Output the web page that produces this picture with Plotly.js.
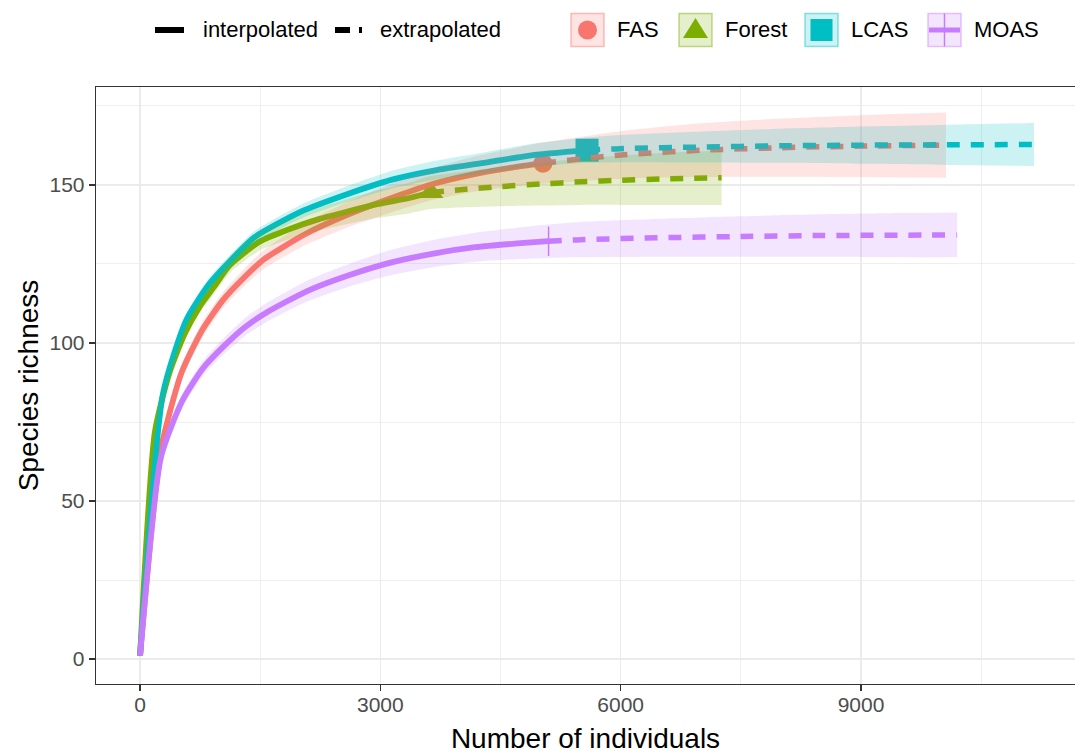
<!DOCTYPE html>
<html>
<head>
<meta charset="utf-8">
<script src="https://cdn.plot.ly/plotly-3.0.1.min.js"></script>
<style>
  html, body { margin: 0; padding: 0; background: #ffffff; }
  #chart { width: 1075px; height: 756px; }
</style>
</head>
<body>
<div id="chart"></div>
<script>
// Rarefaction / extrapolation curves of species richness for four habitats.
const sites = ['FAS', 'Forest', 'LCAS', 'MOAS'];
const siteColors = ['#F8766D', '#7CAE00', '#00BFC4', '#C77CFF'];
const observedN = [5030, 3630, 5580, 5100];

// sample size (m), richness estimate (S), lower / upper confidence bound
const fasM  = [1, 259, 517, 775, 1033, 1291, 1549, 2065, 2581, 3097, 3613, 4129, 4645, 5030, 6000, 7000, 8000, 9000, 10060];
const fasS  = [1, 66, 90.5, 104, 113.5, 120.5, 126.5, 134.5, 140.5, 145.5, 150, 153.2, 155.5, 156.9, 159.5, 161, 161.8, 162.3, 162.6];
const fasLo = [1, 63.5, 88, 101.5, 111, 117.8, 123.5, 131, 136.5, 141, 145, 147.7, 149.5, 150.4, 152, 152.5, 152.6, 152.5, 152.3];
const fasHi = [1, 68.5, 93, 106.5, 116, 123.2, 129.5, 138, 144.5, 150, 155, 158.7, 161.5, 163.4, 167, 169.5, 171, 172.1, 172.9];

const forestM  = [1, 187, 373, 559, 745, 931, 1117, 1489, 1861, 2233, 2605, 2977, 3349, 3630, 4000, 4500, 5000, 5500, 6000, 6500, 7260];
const forestS  = [1, 72, 91, 103, 111.5, 118, 124.5, 132, 136, 139.2, 141.7, 144, 145.8, 147.6, 148.5, 149.5, 150.3, 151, 151.5, 151.9, 152.3];
const forestLo = [1, 70, 89, 101, 109.5, 115.8, 122.1, 129.2, 132.8, 135.6, 137.7, 139.6, 141, 142.4, 142.9, 143.3, 143.5, 143.7, 143.7, 143.7, 143.7];
const forestHi = [1, 74, 93, 105, 113.5, 120.2, 126.9, 134.8, 139.2, 142.8, 145.7, 148.4, 150.6, 152.8, 154.1, 155.7, 157.1, 158.3, 159.3, 160.1, 160.9];

const lcasM  = [1, 287, 573, 859, 1145, 1431, 2003, 2575, 3147, 3719, 4291, 4863, 5580, 6000, 7000, 8000, 9000, 10000, 11160];
const lcasS  = [1, 84, 107, 118.5, 126.5, 133.5, 141.5, 147, 151.7, 154.8, 157, 159.3, 161, 161.5, 162, 162.4, 162.6, 162.7, 162.8];
const lcasLo = [1, 82, 105, 116.5, 124.5, 131.5, 139.3, 144.5, 148.9, 151.8, 153.7, 155.7, 157, 157.2, 157.1, 157, 156.7, 156.4, 156];
const lcasHi = [1, 86, 109, 120.5, 128.5, 135.5, 143.7, 149.5, 154.5, 157.8, 160.3, 162.9, 165, 165.8, 166.9, 167.8, 168.5, 169, 169.6];

const moasM  = [1, 263, 524, 786, 1047, 1309, 1570, 2093, 2616, 3139, 3663, 4186, 4709, 5100, 5500, 6500, 7500, 8500, 9500, 10200];
const moasS  = [1, 64, 81.5, 92, 99, 105, 109.5, 116.5, 121.5, 125.5, 128.3, 130.3, 131.5, 132.2, 132.7, 133.3, 133.7, 134, 134.1, 134.2];
const moasLo = [1, 62, 79.3, 89.6, 96.4, 102.2, 106.5, 113.2, 117.9, 121.5, 124, 125.7, 126.5, 126.9, 127.1, 127.3, 127.3, 127.3, 127.1, 127.1];
const moasHi = [1, 66, 83.7, 94.4, 101.6, 107.8, 112.5, 119.8, 125.1, 129.5, 132.6, 134.9, 136.5, 137.5, 138.3, 139.3, 140.1, 140.7, 141.1, 141.3];

const xTickVals = [0, 3000, 6000, 9000];
const xTickText = ['0', '3000', '6000', '9000'];
const yTickVals = [0, 50, 100, 150];
const yTickText = ['0', '50', '100', '150'];
const lineTypeLabels = ['interpolated', 'extrapolated'];

const curves = [
  { m: fasM,    s: fasS,    lo: fasLo,    hi: fasHi,    symbol: 'circle',       size: 19, mline: 0 },
  { m: forestM, s: forestS, lo: forestLo, hi: forestHi, symbol: 'triangle-up',  size: 22, mline: 0 },
  { m: lcasM,   s: lcasS,   lo: lcasLo,   hi: lcasHi,   symbol: 'square',       size: 23, mline: 0 },
  { m: moasM,   s: moasS,   lo: moasLo,   hi: moasHi,   symbol: 'line-ns-open', size: 21, mline: 1.5 }
];

function rgba(hex, a) {
  const v = parseInt(hex.slice(1), 16);
  return 'rgba(' + (v >> 16) + ',' + ((v >> 8) & 255) + ',' + (v & 255) + ',' + a + ')';
}

const smooth = { shape: 'spline', smoothing: 0.6 };
const pointTraces = [], solidTraces = [], dashTraces = [], ribbonTraces = [];
curves.forEach((c, i) => {
  const n = observedN[i];
  const col = siteColors[i];
  const iIdx = c.m.map((v, k) => k).filter(k => c.m[k] <= n);
  const eIdx = c.m.map((v, k) => k).filter(k => c.m[k] >= n);
  const obs = c.m.indexOf(n);

  pointTraces.push({
    type: 'scatter', mode: 'markers', name: sites[i], hoverinfo: 'skip',
    x: [c.m[obs]], y: [c.s[obs]],
    marker: { symbol: c.symbol, size: c.size, color: col,
              line: { color: col, width: c.mline } }
  });
  solidTraces.push({
    type: 'scatter', mode: 'lines', name: sites[i], hoverinfo: 'skip',
    x: iIdx.map(k => c.m[k]), y: iIdx.map(k => c.s[k]),
    line: Object.assign({ color: col, width: 5.8 }, smooth)
  });
  dashTraces.push({
    type: 'scatter', mode: 'lines', name: sites[i], hoverinfo: 'skip',
    x: eIdx.map(k => c.m[k]), y: eIdx.map(k => c.s[k]),
    line: Object.assign({ color: col, width: 5.5, dash: '13px,11px' }, smooth)
  });
  // confidence band: lower edge, then upper edge filled down to it
  ribbonTraces.push({
    type: 'scatter', mode: 'lines', name: sites[i], hoverinfo: 'skip',
    x: c.m, y: c.lo,
    line: Object.assign({ width: 0, color: 'rgba(0,0,0,0)' }, smooth)
  });
  ribbonTraces.push({
    type: 'scatter', mode: 'lines', name: sites[i], hoverinfo: 'skip',
    x: c.m, y: c.hi, fill: 'tonexty', fillcolor: rgba(col, 0.2),
    line: Object.assign({ width: 0, color: 'rgba(0,0,0,0)' }, smooth)
  });
});

// plot-area geometry used to place the legend in paper units
const L = 96, R = 1075, T = 87, B = 684;
const px = x => (x - L) / (R - L);
const py = y => (B - y) / (B - T);

const shapes = [];
const annotations = [];
const legendY = 30;

// line-type keys
shapes.push({ type: 'line', xref: 'paper', yref: 'paper', layer: 'above',
  x0: px(155), x1: px(184), y0: py(legendY), y1: py(legendY), line: { color: '#000', width: 6 } });
shapes.push({ type: 'line', xref: 'paper', yref: 'paper', layer: 'above',
  x0: px(335), x1: px(350), y0: py(legendY), y1: py(legendY), line: { color: '#000', width: 6 } });
shapes.push({ type: 'line', xref: 'paper', yref: 'paper', layer: 'above',
  x0: px(359), x1: px(362), y0: py(legendY), y1: py(legendY), line: { color: '#000', width: 6 } });
[[201, 0], [378, 1]].forEach(([x, k]) => annotations.push({
  xref: 'paper', yref: 'paper', x: px(x), y: py(legendY), xanchor: 'left', yanchor: 'middle',
  text: lineTypeLabels[k], showarrow: false, font: { size: 22, color: '#000' }
}));

// site keys
const keyX = [571, 679, 805, 928];
const keyW = 33;
sites.forEach((name, i) => {
  const col = siteColors[i];
  const x0 = keyX[i], x1 = x0 + keyW, y0 = legendY - 16.5, y1 = legendY + 16.5;
  const cx = (x0 + x1) / 2, cy = legendY;
  shapes.push({ type: 'rect', xref: 'paper', yref: 'paper', layer: 'above',
    x0: px(x0), x1: px(x1), y0: py(y1), y1: py(y0),
    fillcolor: rgba(col, 0.2), line: { color: rgba(col, 0.45), width: 1.5 } });
  if (i === 0) {
    shapes.push({ type: 'circle', xref: 'paper', yref: 'paper', layer: 'above',
      x0: px(cx - 9.5), x1: px(cx + 9.5), y0: py(cy + 9.5), y1: py(cy - 9.5),
      fillcolor: col, line: { width: 0 } });
  } else if (i === 1) {
    shapes.push({ type: 'path', xref: 'paper', yref: 'paper', layer: 'above',
      path: 'M' + px(cx - 12.5) + ',' + py(cy + 8) + ' L' + px(cx + 12.5) + ',' + py(cy + 8) +
            ' L' + px(cx) + ',' + py(cy - 12) + ' Z',
      fillcolor: col, line: { width: 0 } });
  } else if (i === 2) {
    shapes.push({ type: 'rect', xref: 'paper', yref: 'paper', layer: 'above',
      x0: px(cx - 11), x1: px(cx + 11), y0: py(cy + 11), y1: py(cy - 11),
      fillcolor: col, line: { width: 0 } });
  } else {
    shapes.push({ type: 'line', xref: 'paper', yref: 'paper', layer: 'above',
      x0: px(x0 + 1), x1: px(x1 - 1), y0: py(cy), y1: py(cy), line: { color: col, width: 5 } });
    shapes.push({ type: 'line', xref: 'paper', yref: 'paper', layer: 'above',
      x0: px(cx), x1: px(cx), y0: py(y1), y1: py(y0), line: { color: col, width: 1.5 } });
  }
  annotations.push({ xref: 'paper', yref: 'paper', x: px(x1 + 11), y: py(legendY),
    xanchor: 'left', yanchor: 'middle', text: name, showarrow: false,
    font: { size: 22, color: '#000' } });
});

const grid = '#EBEBEB';
const layout = {
  width: 1075, height: 756,
  margin: { l: L, r: 1075 - R, t: T, b: 756 - B, pad: 0 },
  paper_bgcolor: '#ffffff', plot_bgcolor: '#ffffff',
  showlegend: false,
  font: { family: '"Liberation Sans", Arial, sans-serif', color: '#000' },
  xaxis: {
    range: [-549, 11671], tickmode: 'array', tickvals: xTickVals, ticktext: xTickText,
    ticks: 'outside', ticklen: 6, tickwidth: 1.2, tickcolor: '#333333',
    tickfont: { size: 21, color: '#4D4D4D' }, ticklabelstandoff: -5,
    showline: true, mirror: true, linecolor: '#333333', linewidth: 1.3,
    showgrid: true, gridcolor: grid, gridwidth: 1.3, zeroline: false,
    minor: { tickvals: [1500, 4500, 7500, 10500], showgrid: true, gridcolor: grid, gridwidth: 0.8, ticks: '' },
    title: { text: 'Number of individuals', font: { size: 28, color: '#000' }, standoff: 14 },
    automargin: false
  },
  yaxis: {
    range: [-7.9, 181], tickmode: 'array', tickvals: yTickVals, ticktext: yTickText,
    ticks: 'outside', ticklen: 6, tickwidth: 1.2, tickcolor: '#333333',
    tickfont: { size: 21, color: '#4D4D4D' },
    showline: true, mirror: false, linecolor: '#333333', linewidth: 1.3,
    showgrid: true, gridcolor: grid, gridwidth: 1.3, zeroline: false,
    minor: { tickvals: [25, 75, 125, 175], showgrid: true, gridcolor: grid, gridwidth: 0.8, ticks: '' },
    title: { text: 'Species richness', font: { size: 28, color: '#000' }, standoff: 2 },
    automargin: false
  },
  shapes: shapes,
  annotations: annotations
};

const data = pointTraces.concat(solidTraces, dashTraces, ribbonTraces);
Plotly.newPlot('chart', data, layout, { displayModeBar: false, staticPlot: true });
</script>
</body>
</html>
